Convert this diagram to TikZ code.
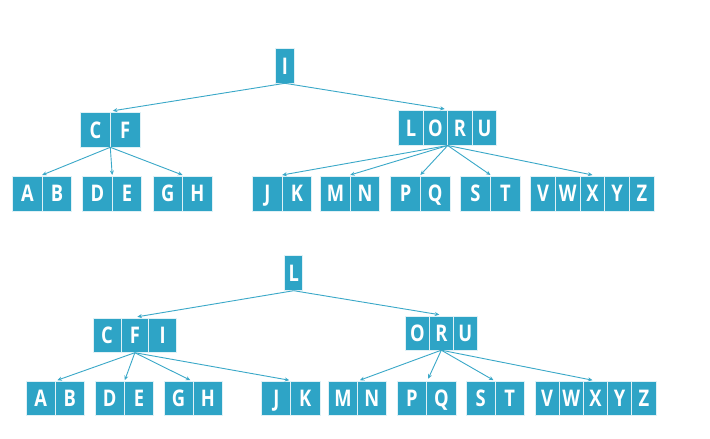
\documentclass[tikz,border=0pt]{standalone}
\usepackage{fontspec}
\newfontfamily\cellfont{Open Sans}[FakeStretch=0.8]
\usetikzlibrary{arrows.meta,calc}
\definecolor{boxblue}{RGB}{46,164,198}
\definecolor{linkblue}{RGB}{58,168,200}
\tikzset{
  cell/.style={rectangle, anchor=north west, fill=boxblue, draw=white!85!boxblue,
    line width=0.7bp, inner sep=0pt, outer sep=0pt, minimum height=35bp,
    text=white, font=\cellfont\bfseries\fontsize{23}{23}\selectfont,
    text height=16.5bp, text depth=0pt},
  link/.style={draw=linkblue, line width=0.9bp, -{Stealth[length=4.5bp,width=4bp]}}
}
\begin{document}
\begin{tikzpicture}[x=1bp,y=-1bp]
\useasboundingbox[fill=white] (0,0) rectangle (710,439);

% ---------- top tree ----------
\node[cell, minimum width=18.3bp] (tI) at (275.7,48.3) {I};
\foreach \n/\x in {C/80.7,F/110.3}
  \node[cell, minimum width=29.6bp] (t\n) at (\x,112.3) {\n};
\foreach \n/\x in {L/398.7,O/423.2,R/447.7,U/472.2}
  \node[cell, minimum width=24.5bp] (t\n) at (\x,110.5) {\n};
\foreach \n/\x in {A/12.7,B/42.2,D/82.7,E/112.2,G/153,H/182.5,J/252.7,K/282.2,M/320.7,N/350.2,P/390.7,Q/420.4,S/460.7,T/490.5}
  \node[cell, minimum width=29.6bp] (t\n) at (\x,176) {\n};
\foreach \n/\x in {V/530.7,W/555.4,X/580.1,Y/604.8,Z/629.5}
  \node[cell, minimum width=24.7bp] (t\n) at (\x,176) {\n};

\draw[link] (tI.south) -- ($(tF.north west)+(2.5,-1.5)$);
\draw[link] (tI.south) -- ($(tR.north west)+(-3,-1.5)$);
\foreach \t in {tB.north west,tE.north west,tH.north west}
  \draw[link] (tC.south east) -- ($(\t)+(0,-1)$);
\foreach \t in {tK.north west,tN.north west,tQ.north west,tT.north west,tX.north}
  \draw[link] (tR.south west) -- ($(\t)+(0,-1)$);

% ---------- bottom tree ----------
\node[cell, minimum width=18bp] (bL) at (284.7,255.7) {L};
\foreach \n/\x in {C/93,F/120.9,I/148.8}
  \node[cell, minimum width=27.9bp, minimum height=34.4bp] (b\n) at (\x,318.3) {\n};
\foreach \n/\x in {O/405.3,R/429.3,U/453.3}
  \node[cell, minimum width=24bp, minimum height=33.5bp] (b\n) at (\x,316.7) {\n};
\foreach \n/\x in {A/26,B/55.3,D/95,E/124.3,G/164,H/193.3,J/261.7,K/290.7,M/328.3,N/357.3,P/397.3,Q/426.7,S/466,T/495}
  \node[cell, minimum width=29.2bp, minimum height=34bp] (b\n) at (\x,381.7) {\n};
\foreach \n/\x in {V/535,W/559.2,X/583.4,Y/607.6,Z/631.8}
  \node[cell, minimum width=24.2bp, minimum height=34bp] (b\n) at (\x,381.7) {\n};

\draw[link] (bL.south) -- ($(bF.north)+(2.5,-1.5)$);
\draw[link] (bL.south) -- ($(bR.north)+(-2,-2)$);
\draw[link] (bF.south) -- ($(bB.north west)+(2,-1.5)$);
\draw[link] (bF.south) -- ($(bE.north west)+(0.5,-1.5)$);
\draw[link] (bF.south) -- ($(bH.north west)+(-3,-1.5)$);
\draw[link] (bF.south) -- ($(bK.north west)+(-1.5,-1.5)$);
\draw[link] (bR.south) -- ($(bN.north west)+(2.5,-1.5)$);
\draw[link] (bR.south) -- ($(bQ.north west)+(1.5,-3)$);
\draw[link] (bR.south) -- ($(bT.north west)+(-1.5,-1.5)$);
\draw[link] (bR.south) -- ($(bX.north)+(-3,-1.5)$);
\end{tikzpicture}
\end{document}
